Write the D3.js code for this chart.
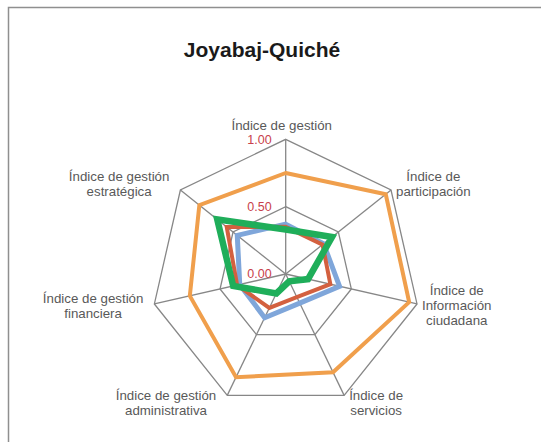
<!DOCTYPE html>
<html>
<head>
<meta charset="utf-8">
<script src="https://cdn.jsdelivr.net/npm/d3@7"></script>
<style>
  html, body { margin: 0; padding: 0; background: #fff; }
  svg { display: block; font-family: "Liberation Sans", Arial, sans-serif; }
</style>
</head>
<body>
<svg id="chart" width="541" height="442"></svg>
<script>
// Radar Joyabaj-Quiché: 7 índices, 4 series (sin leyenda en el original)

const categories = [
  "Índice de gestión",
  "Índice de\nparticipación",
  "Índice de\nInformación\nciudadana",
  "Índice de\nservicios",
  "Índice de gestión\nadministrativa",
  "Índice de gestión\nfinanciera",
  "Índice de gestión\nestratégica"
];

// valores, mismo orden que categories
const serieNaranja = [0.75, 0.95, 0.94, 0.81, 0.85, 0.73, 0.82];
const serieAzul    = [0.37, 0.36, 0.41, 0.24, 0.36, 0.35, 0.46];
const serieRoja    = [0.35, 0.35, 0.34, 0.19, 0.28, 0.37, 0.56];
const serieVerde   = [0.33, 0.44, 0.17, 0.06, 0.16, 0.40, 0.65];

const tickValues = [0, 0.5, 1];
const gridValues = [0.5, 1];
const title = "Joyabaj-Quiché";

const series = [
  { name: "Serie 1", values: serieNaranja, color: "#f09f4c", width: 4 },
  { name: "Serie 2", values: serieAzul,    color: "#7fa6da", width: 5 },
  { name: "Serie 3", values: serieRoja,    color: "#d3603f", width: 4 },
  { name: "Serie 4", values: serieVerde,   color: "#1fae5a", width: 6.5 }
];

const svg = d3.select("#chart");
const cx = 285.7, cy = 274, R = 134.7;
const n = categories.length;

// marco del gráfico (sale por la derecha y abajo, como en el recorte original)
svg.append("rect")
  .attr("x", 8.5).attr("y", 7.5).attr("width", 560).attr("height", 460)
  .attr("fill", "none").attr("stroke", "#8f8f8f").attr("stroke-width", 1.5);

svg.append("text")
  .attr("x", 262).attr("y", 57)
  .attr("text-anchor", "middle")
  .style("font-size", "21px").style("font-weight", "bold").style("fill", "#1a1a1a")
  .text(title);

const r = d3.scaleLinear().domain([0, 1]).range([0, R]);
const angle = (i) => i * 2 * Math.PI / n;

const g = svg.append("g").attr("transform", `translate(${cx},${cy})`);

// anillos de la rejilla
const ring = d3.lineRadial().angle((d, i) => angle(i)).radius((d) => r(d)).curve(d3.curveLinearClosed);
gridValues.forEach((v) => {
  g.append("path")
    .attr("d", ring(d3.range(n).map(() => v)))
    .attr("fill", "none").attr("stroke", "#878787").attr("stroke-width", 1.3);
});

// ejes radiales
d3.range(n).forEach((i) => {
  const a = angle(i);
  g.append("line")
    .attr("x1", 0).attr("y1", 0)
    .attr("x2", r(1) * Math.sin(a)).attr("y2", -r(1) * Math.cos(a))
    .attr("stroke", "#878787").attr("stroke-width", 1.3);
});

// series
const line = d3.lineRadial().angle((d, i) => angle(i)).radius((d) => r(d)).curve(d3.curveLinearClosed);
series.forEach((s) => {
  g.append("path")
    .attr("d", line(s.values))
    .attr("fill", "none")
    .attr("stroke", s.color).attr("stroke-width", s.width)
    .attr("stroke-linejoin", "miter");
});

// etiquetas del eje de valores
tickValues.forEach((v) => {
  g.append("text")
    .attr("x", -14).attr("y", -r(v) + 1)
    .attr("text-anchor", "end").attr("dominant-baseline", "middle")
    .style("font-size", "12.5px").style("fill", "#c8414b")
    .text(d3.format(".2f")(v));
});

// etiquetas de categorías
const lineH = 15;
categories.forEach((c, i) => {
  const a = angle(i);
  const s = Math.sin(a), co = Math.cos(a);
  const vx = r(1) * s, vy = -r(1) * co;
  const lines = c.split("\n");
  const t = g.append("text")
    .attr("text-anchor", "middle")
    .style("font-size", "13.3px").style("fill", "#595959");
  lines.forEach((l) => t.append("tspan").text(l));
  const widths = t.selectAll("tspan").nodes().map((nd) => nd.getComputedTextLength());
  const maxW = d3.max(widths);
  let x;
  if (s > 0.1) x = vx + 5 + maxW / 2;
  else if (s < -0.1) x = vx - 11 - maxW / 2;
  else x = vx - 4;
  const yc = vy - 9 * co - (Math.abs(s) < 0.1 ? 5 : 0);
  const y0 = yc - (lines.length - 1) * lineH / 2 + 4.5;
  t.selectAll("tspan")
    .attr("x", x)
    .attr("y", (d, j) => y0 + j * lineH);
});
</script>
</body>
</html>
